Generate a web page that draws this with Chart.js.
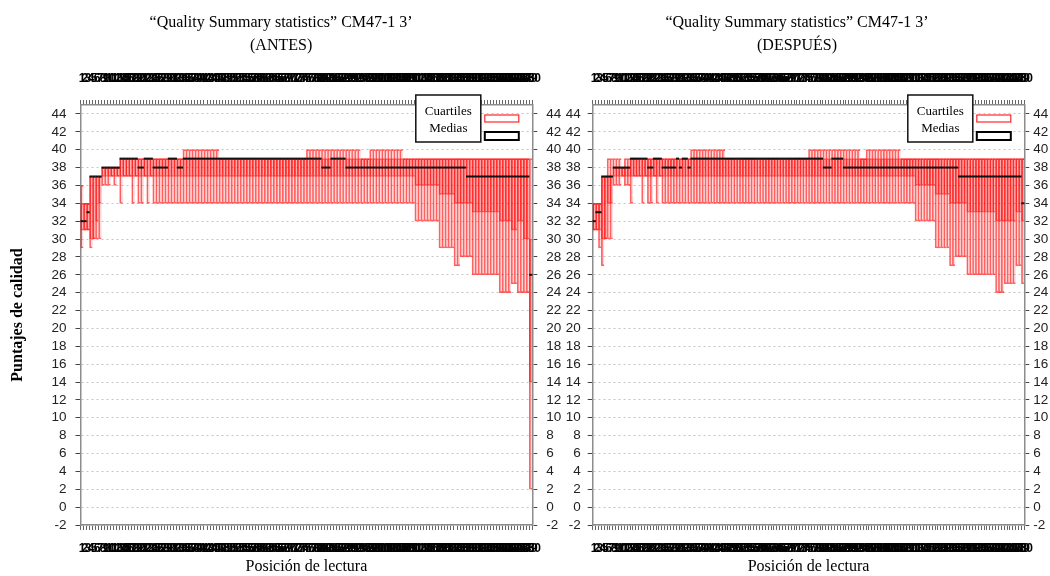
<!DOCTYPE html>
<html>
<head>
<meta charset="utf-8">
<script src="https://cdn.jsdelivr.net/npm/chart.js@4.4.1/dist/chart.umd.min.js"></script>
<style>
  body { margin:0; background:#fff; width:1050px; height:576px; overflow:hidden; position:relative; }
  canvas { position:absolute; top:0; }
  #antes { left:0; }
  #despues { left:544px; }
</style>
</head>
<body>
<canvas id="antes" width="592" height="576"></canvas>
<canvas id="despues" width="506" height="576"></canvas>
<script>
var positions = [];
for (var i = 1; i <= 150; i++) positions.push(String(i));

var yTicks = [-2,0,2,4,6,8,10,12,14,16,18,20,22,24,26,28,30,32,34,36,38,40,42,44];

// ANTES: whisker low / quartile 1 / median / quartile 3 / whisker high, per position
var antesLow = [
  29,31,31,29,30, 30,30,36,36,36, 37,36,37,34,37, 37,37,34,37,34, 34,37,34,37,34,
  34,34,34,34,34, 34,34,34,34,34, 34,34,34,34,34, 34,34,34,34,34, 34,34,34,34,34,
  34,34,34,34,34, 34,34,34,34,34, 34,34,34,34,34, 34,34,34,34,34, 34,34,34,34,34,
  34,34,34,34,34, 34,34,34,34,34, 34,34,34,34,34, 34,34,34,34,34, 34,34,34,34,34,
  34,34,34,34,34, 34,34,34,34,34, 34,32,32,32,32, 32,32,32,32,29, 29,29,29,29,27,
  27,28,28,28,28, 26,26,26,26,26, 26,26,26,26,24, 24,24,24,25,25, 24,24,24,24,2
];
var antesQ1 = [
  31,31,31,30,30, 32,34,37,37,37, 37,37,37,37,37, 37,37,37,37,37, 37,37,37,37,37,
  37,37,37,37,37, 37,37,37,37,37, 37,37,37,37,37, 37,37,37,37,37, 37,37,37,37,37,
  37,37,37,37,37, 37,37,37,37,37, 37,37,37,37,37, 37,37,37,37,37, 37,37,37,37,37,
  37,37,37,37,37, 37,37,37,37,37, 37,37,37,37,37, 37,37,37,37,37, 37,37,37,37,37,
  37,37,37,37,37, 37,37,37,37,37, 37,36,36,36,36, 36,36,36,36,35, 35,35,35,35,34,
  34,34,34,34,34, 33,33,33,33,33, 33,33,33,33,32, 32,32,32,31,31, 32,32,30,30,14
];
var antesMed = [
  32,32,33,37,37, 37,37,38,38,38, 38,38,38,39,39, 39,39,39,39,38, 38,39,39,39,38,
  38,38,38,38,39, 39,39,38,38,39, 39,39,39,39,39, 39,39,39,39,39, 39,39,39,39,39,
  39,39,39,39,39, 39,39,39,39,39, 39,39,39,39,39, 39,39,39,39,39, 39,39,39,39,39,
  39,39,39,39,39, 38,38,38,39,39, 39,39,39,38,38, 38,38,38,38,38, 38,38,38,38,38,
  38,38,38,38,38, 38,38,38,38,38, 38,38,38,38,38, 38,38,38,38,38, 38,38,38,38,38,
  38,38,38,37,37, 37,37,37,37,37, 37,37,37,37,37, 37,37,37,37,37, 37,37,37,37,26
];
var antesQ3 = [
  34,34,34,37,37, 37,37,38,38,38, 38,38,38,39,39, 39,39,39,39,39, 39,39,39,39,39,
  39,39,39,39,39, 39,39,39,39,39, 39,39,39,39,39, 39,39,39,39,39, 39,39,39,39,39,
  39,39,39,39,39, 39,39,39,39,39, 39,39,39,39,39, 39,39,39,39,39, 39,39,39,39,39,
  39,39,39,39,39, 39,39,39,39,39, 39,39,39,39,39, 39,39,39,39,39, 39,39,39,39,39,
  39,39,39,39,39, 39,39,39,39,39, 39,39,39,39,39, 39,39,39,39,39, 39,39,39,39,39,
  39,39,39,39,39, 39,39,39,39,39, 39,39,39,39,39, 39,39,39,39,39, 39,39,39,39,30
];
var antesHigh = [
  36,34,34,37,37, 37,37,38,38,38, 38,38,38,39,39, 39,39,39,39,39, 39,39,39,39,39,
  39,39,39,39,39, 39,39,39,39,40, 40,40,40,40,40, 40,40,40,40,40, 40,39,39,39,39,
  39,39,39,39,39, 39,39,39,39,39, 39,39,39,39,39, 39,39,39,39,39, 39,39,39,39,39,
  40,40,40,40,40, 40,40,40,40,40, 40,40,40,40,40, 40,40,40,39,39, 39,40,40,40,40,
  40,40,40,40,40, 40,40,39,39,39, 39,39,39,39,39, 39,39,39,39,39, 39,39,39,39,39,
  39,39,39,39,39, 39,39,39,39,39, 39,39,39,39,39, 39,39,39,39,39, 39,39,39,39,39
];

// DESPUÉS
var despuesLow = [
  31,31,29,27,30, 30,30,36,36,36, 37,36,36,34,37, 37,37,34,37,34, 34,37,34,37,34,
  34,34,34,34,34, 34,34,34,34,34, 34,34,34,34,34, 34,34,34,34,34, 34,34,34,34,34,
  34,34,34,34,34, 34,34,34,34,34, 34,34,34,34,34, 34,34,34,34,34, 34,34,34,34,34,
  34,34,34,34,34, 34,34,34,34,34, 34,34,34,34,34, 34,34,34,34,34, 34,34,34,34,34,
  34,34,34,34,34, 34,34,34,34,34, 34,34,32,32,32, 32,32,32,32,29, 29,29,29,29,27,
  27,28,28,28,28, 26,26,26,26,26, 26,26,26,26,26, 24,24,24,25,25, 25,25,27,27,25
];
var despuesQ1 = [
  31,31,31,30,30, 34,34,37,37,37, 37,37,37,37,37, 37,37,37,37,37, 37,37,37,37,37,
  37,37,37,37,37, 37,37,37,37,37, 37,37,37,37,37, 37,37,37,37,37, 37,37,37,37,37,
  37,37,37,37,37, 37,37,37,37,37, 37,37,37,37,37, 37,37,37,37,37, 37,37,37,37,37,
  37,37,37,37,37, 37,37,37,37,37, 37,37,37,37,37, 37,37,37,37,37, 37,37,37,37,37,
  37,37,37,37,37, 37,37,37,37,37, 37,37,36,36,36, 36,36,36,36,35, 35,35,35,35,34,
  34,34,34,34,34, 33,33,33,33,33, 33,33,33,33,33, 32,32,32,32,32, 32,32,33,33,32
];
var despuesMed = [
  32,33,33,37,37, 37,37,38,38,38, 38,38,38,39,39, 39,39,39,39,38, 38,39,39,39,38,
  38,38,38,38,39, 38,39,39,38,39, 39,39,39,39,39, 39,39,39,39,39, 39,39,39,39,39,
  39,39,39,39,39, 39,39,39,39,39, 39,39,39,39,39, 39,39,39,39,39, 39,39,39,39,39,
  39,39,39,39,39, 38,38,38,39,39, 39,39,38,38,38, 38,38,38,38,38, 38,38,38,38,38,
  38,38,38,38,38, 38,38,38,38,38, 38,38,38,38,38, 38,38,38,38,38, 38,38,38,38,38,
  38,38,37,37,37, 37,37,37,37,37, 37,37,37,37,37, 37,37,37,37,37, 37,37,37,37,34
];
var despuesQ3 = [
  34,34,34,37,37, 37,37,38,38,38, 38,38,38,39,39, 39,39,39,39,39, 39,39,39,39,39,
  39,39,39,39,39, 39,39,39,39,39, 39,39,39,39,39, 39,39,39,39,39, 39,39,39,39,39,
  39,39,39,39,39, 39,39,39,39,39, 39,39,39,39,39, 39,39,39,39,39, 39,39,39,39,39,
  39,39,39,39,39, 39,39,39,39,39, 39,39,39,39,39, 39,39,39,39,39, 39,39,39,39,39,
  39,39,39,39,39, 39,39,39,39,39, 39,39,39,39,39, 39,39,39,39,39, 39,39,39,39,39,
  39,39,39,39,39, 39,39,39,39,39, 39,39,39,39,39, 39,39,39,39,39, 39,39,39,39,39
];
var despuesHigh = [
  34,34,34,37,37, 39,39,39,39,39, 38,39,39,39,39, 39,39,39,39,39, 39,39,39,39,39,
  39,39,39,39,39, 39,39,39,39,40, 40,40,40,40,40, 40,40,40,40,40, 40,39,39,39,39,
  39,39,39,39,39, 39,39,39,39,39, 39,39,39,39,39, 39,39,39,39,39, 39,39,39,39,39,
  40,40,40,40,40, 40,40,40,40,40, 40,40,40,40,40, 40,40,40,39,39, 40,40,40,40,40,
  40,40,40,40,40, 40,40,39,39,39, 39,39,39,39,39, 39,39,39,39,39, 39,39,39,39,39,
  39,39,39,39,39, 39,39,39,39,39, 39,39,39,39,39, 39,39,39,39,39, 39,39,39,39,39
];

var serif = "'Liberation Serif', 'Times New Roman', serif";
var sans = "'Liberation Sans', Arial, sans-serif";

// legend box drawn inside the plot, top right
var quartileLegend = {
  id: 'quartileLegend',
  afterDraw: function(chart) {
    var ctx = chart.ctx, a = chart.chartArea;
    var bx = a.right - 116.5, by = a.top - 10, bw = 65, bh = 47;
    var sx = a.right - 47.5, sw = 34;
    ctx.save();
    ctx.fillStyle = '#fff';
    ctx.fillRect(bx, by, bw, bh);
    ctx.strokeStyle = '#111';
    ctx.lineWidth = 1.5;
    ctx.strokeRect(bx, by, bw, bh);
    ctx.fillStyle = '#000';
    ctx.font = '13px ' + serif;
    ctx.textAlign = 'center';
    ctx.textBaseline = 'middle';
    ctx.fillText(chart.data.datasets[1].label, bx + bw / 2, a.top + 7);
    ctx.fillText(chart.data.datasets[0].label, bx + bw / 2, a.top + 24);
    ctx.fillStyle = '#fff';
    ctx.fillRect(sx, a.top + 10, sw, 7);
    ctx.strokeStyle = 'rgba(255,0,0,0.85)';
    ctx.lineWidth = 1.2;
    ctx.strokeRect(sx, a.top + 10, sw, 7);
    ctx.fillRect(sx, a.top + 27, sw, 8);
    ctx.strokeStyle = '#000';
    ctx.lineWidth = 2;
    ctx.strokeRect(sx, a.top + 27, sw, 8);
    ctx.restore();
  }
};

function xAxis(pos, pad, h, showTitle) {
  return {
    type: 'category',
    position: pos,
    labels: positions,
    offset: true,
    grid: { display: true, drawOnChartArea: false, drawTicks: true, tickLength: 5, tickColor: '#666', offset: true },
    border: { display: true, color: '#8c8c8c', width: 1.5 },
    ticks: { autoSkip: false, maxRotation: 0, minRotation: 0, padding: pad, color: '#000', font: { family: sans, size: 12, weight: 'bold' } },
    title: { display: showTitle, text: 'Posición de lectura', color: '#000', font: { family: serif, size: 16 }, padding: { top: 0, bottom: 0 } },
    afterFit: function(s) { s.height = h; }
  };
}

function yAxis(pos, w, pad, onArea, yTitle) {
  return {
    type: 'linear',
    position: pos,
    min: -2,
    max: 45,
    afterBuildTicks: function(s) { s.ticks = yTicks.map(function(v) { return { value: v }; }); },
    grid: { drawOnChartArea: onArea, color: '#c4c4c4', lineWidth: 1, tickLength: 5, tickColor: '#444', tickBorderDash: [] },
    border: { display: true, color: '#8c8c8c', width: 1.5, dash: [2, 3] },
    ticks: { autoSkip: false, padding: pad, color: '#222', font: { family: sans, size: 13.5 } },
    title: { display: !!yTitle, text: yTitle || '', color: '#000', font: { family: serif, size: 16, weight: 'bold' }, padding: { top: 8, bottom: 0 } },
    afterFit: function(s) { s.width = w; }
  };
}

function makeChart(id, label, low, q1, med, q3, high, opts) {
  var ctx = document.getElementById(id).getContext('2d');
  return new Chart(ctx, {
    type: 'bar',
    data: {
      labels: positions,
      datasets: [
        {
          type: 'line',
          label: 'Medias',
          data: med,
          showLine: false,
          pointStyle: 'line',
          pointRadius: 1.6,
          pointHoverRadius: 1.6,
          pointBorderWidth: 2,
          borderColor: '#111',
          order: 0
        },
        {
          label: 'Cuartiles',
          data: q1.map(function(v, i) { return [v, q3[i]]; }),
          backgroundColor: 'rgba(255,0,0,0.2)',
          borderColor: 'rgba(255,0,0,0.5)',
          borderWidth: { left: 1, right: 0, top: 1, bottom: 1 },
          borderSkipped: false,
          grouped: false,
          barPercentage: 1,
          categoryPercentage: 1,
          order: 1
        },
        {
          label: 'Rango',
          data: low.map(function(v, i) { return [v, high[i]]; }),
          backgroundColor: 'rgba(255,0,0,0.15)',
          borderColor: 'rgba(255,0,0,0.6)',
          borderWidth: { left: 1, right: 0, top: 1, bottom: 1 },
          borderSkipped: false,
          grouped: false,
          barPercentage: 1,
          categoryPercentage: 1,
          order: 2
        }
      ]
    },
    options: {
      responsive: false,
      animation: false,
      layout: { padding: { left: 0, right: opts.padRight, top: 0, bottom: 0 } },
      plugins: {
        legend: { display: false },
        tooltip: { enabled: false },
        title: {
          display: true,
          text: ['\u201cQuality Summary statistics\u201d CM47-1 3\u2019', label],
          color: '#000',
          font: { family: serif, size: 16, weight: 'normal', lineHeight: 1.45 },
          padding: { top: 11.4, bottom: 10 }
        }
      },
      scales: {
        x: xAxis('bottom', 11, 51, true),
        x2: xAxis('top', 14, 37.2, false),
        y: yAxis('left', opts.leftW, opts.leftPad, true, opts.yTitle),
        y2: yAxis('right', opts.rightW, opts.rightPad, false, null)
      }
    },
    plugins: [quartileLegend]
  });
}

makeChart('antes', '(ANTES)', antesLow, antesQ1, antesMed, antesQ3, antesHigh,
  { leftW: 80.5, leftPad: 9, rightW: 30, rightPad: 9, padRight: 29.7, yTitle: 'Puntajes de calidad' });
makeChart('despues', '(DESPU\u00c9S)', despuesLow, despuesQ1, despuesMed, despuesQ3, despuesHigh,
  { leftW: 48.7, leftPad: 7, rightW: 25.7, rightPad: 4, padRight: 0, yTitle: null });
</script>
</body>
</html>
